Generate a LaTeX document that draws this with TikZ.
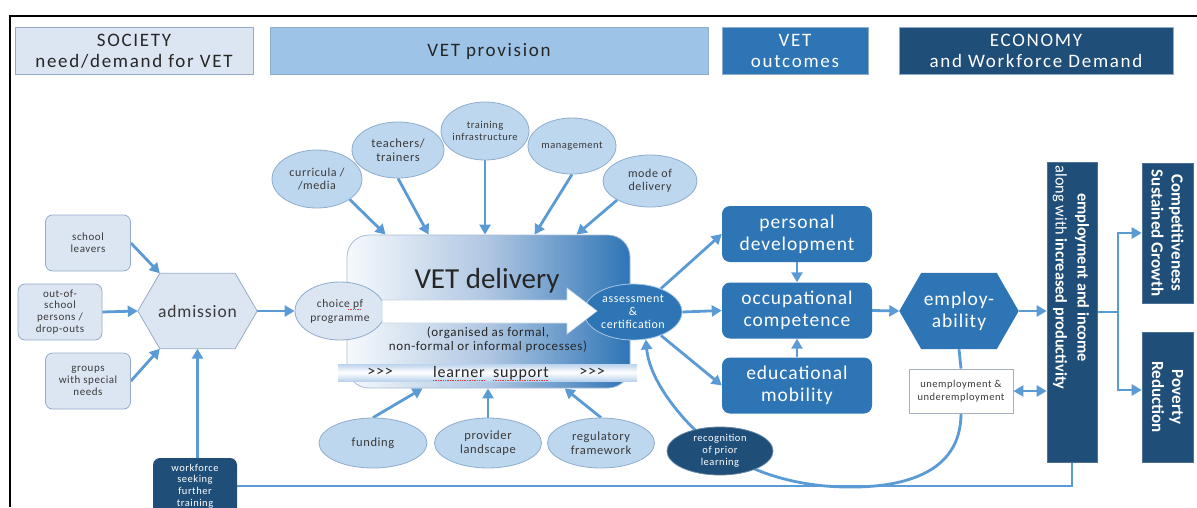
\documentclass[tikz,border=0pt]{standalone}
\usepackage{fontspec}
\setmainfont{Carlito}
\newfontfamily\spc{Carlito}[LetterSpace=5]
\newfontfamily\hspc{Carlito}[LetterSpace=9]
\usetikzlibrary{shapes.geometric,arrows.meta,calc}
\pgfdeclarelayer{bg}
\pgfdeclarelayer{mid}
\pgfsetlayers{bg,mid,main}
\definecolor{lightbg}{HTML}{DCE6F2}
\definecolor{lightborder}{HTML}{95ABC8}
\definecolor{provblue}{HTML}{9DC3E6}
\definecolor{ellblue}{HTML}{BDD7EE}
\definecolor{ellborder}{HTML}{8EACCD}
\definecolor{midblue}{HTML}{2E75B6}
\definecolor{navy}{HTML}{1F4E79}
\definecolor{arrowblue}{HTML}{5B9BD5}
\definecolor{txt}{HTML}{3A3A3A}
\definecolor{dark}{HTML}{262626}
\definecolor{delleft}{HTML}{F6F9FC}
\definecolor{delmid}{HTML}{AFC6E2}
\definecolor{delborder}{HTML}{A9BCD6}
\definecolor{bandblue}{HTML}{BBD3EC}
\definecolor{assborder}{HTML}{A7C6E6}
\definecolor{unborder}{HTML}{A5B0BE}
\definecolor{arrowborder}{HTML}{C9D5E5}
\definecolor{spell}{HTML}{E04040}
\newcommand\fz[2]{\fontsize{#1}{#2}\selectfont}
\begin{document}
\begin{tikzpicture}[x=1pt,y=-1pt,
  font=\spc,
  hdr/.style={minimum height=47pt, inner sep=0pt, align=center, line width=0.8pt, font=\hspc\fz{19}{21.5}},
  lightbox/.style={draw=lightborder, fill=lightbg, rounded corners=7pt, text=txt, align=center, line width=0.8pt, inner sep=0pt, minimum width=85pt, minimum height=56pt, font=\spc\fz{11}{11.8}},
  ell/.style={ellipse, draw=ellborder, fill=ellblue, inner sep=0pt, line width=0.8pt},
  etxt/.style={align=center, text=txt, inner sep=0pt},
  outbox/.style={fill=midblue, rounded corners=8pt, text=white, align=center, minimum width=150pt, minimum height=56pt, inner sep=0pt, font=\spc\fz{19.5}{22}},
  navybox/.style={fill=navy, draw=navy!80!white, line width=0.6pt, inner sep=0pt},
  rottxt/.style={rotate=-90, text=white, align=center, inner sep=0pt},
  arr/.style={draw=arrowblue, line width=2.8pt, -{Triangle[length=10pt,width=11pt]}},
  darr/.style={draw=arrowblue, line width=2.8pt, {Triangle[length=10pt,width=11pt]}-{Triangle[length=10pt,width=11pt]}},
  conn/.style={draw=arrowblue, line width=2.8pt},
  spellline/.style={draw=spell, densely dotted, line width=0.7pt}
]
\useasboundingbox (0,0) rectangle (1197,507);
\clip (0,0) rectangle (1197,507);

% frame
\draw[black, line width=1.5pt] (10,507) -- (10,16) -- (1197,16);

% headers
\node[hdr, draw=lightborder, fill=lightbg, text=dark, minimum width=238pt] (soc) at (134,51) {SOCIETY\\need/demand  for VET};
\node[hdr, draw=ellborder, fill=provblue, text=dark, minimum width=438pt] (prov) at (489,51) {VET provision};
\node[hdr, draw=ellborder, fill=midblue, text=white, minimum width=146pt] (outc) at (795,51) {VET\\outcomes};
\node[hdr, draw=ellborder, fill=navy, text=white, minimum width=274pt] (econ) at (1036,51) {ECONOMY\\and Workforce  Demand};

% left sources
\node[lightbox] (sl) at (88,243) {school\\leavers};
\node[lightbox, minimum width=84pt] (oos) at (60,312) {out-of-\\school\\persons /\\drop-outs};
\node[lightbox] (grp) at (88,381) {groups\\with special\\needs};

% admission hexagon
\node[minimum width=119pt, minimum height=75pt, inner sep=0pt, text=txt, font=\spc\fz{17.5}{20}] (adm) at (197.5,311) {admission};
\begin{pgfonlayer}{mid}
\draw[fill=lightbg, draw=lightborder, line width=0.8pt]
  (adm.west) -- ($(adm.north west)+(22,0)$) -- ($(adm.north east)+(-22,0)$) -- (adm.east)
  -- ($(adm.south east)+(-22,0)$) -- ($(adm.south west)+(22,0)$) -- cycle;
\end{pgfonlayer}

% top ellipses
\node[ell, minimum width=90pt, minimum height=58pt, label={[etxt, font=\spc\fz{12}{12.5}]center:curricula /\\/media}] (cur) at (317,179) {};
\node[ell, minimum width=92pt, minimum height=56pt, label={[etxt, font=\spc\fz{12.5}{13.5}]center:teachers/\\trainers}] (tea) at (398,150) {};
\node[ell, minimum width=88pt, minimum height=58pt, label={[etxt, font=\spc\fz{10.5}{12}]center:training\\infrastructure}] (tra) at (485,131) {};
\node[ell, minimum width=88pt, minimum height=56pt, label={[etxt, font=\spc\fz{10.5}{12}]center:management}] (mgt) at (572,146) {};
\node[ell, minimum width=94pt, minimum height=52pt, label={[etxt, font=\spc\fz{12}{13.5}]center:mode of\\delivery}] (mod) at (650,181) {};

% VET delivery box
\node[draw=delborder, line width=0.8pt, rounded corners=22pt, left color=delleft, right color=midblue, middle color=delmid, minimum width=283pt, minimum height=153pt, inner sep=0pt] (del) at (488.5,311.5) {};
\node[font=\fz{29}{32}, text=dark, inner sep=0pt] (deltitle) at (487,281) {VET delivery};
\node[font=\spc\fz{13}{14}, text=dark, align=center, inner sep=0pt] (delnote) at (488,340) {(organised as formal,\\non-formal or informal processes)};
\node[minimum width=299pt, minimum height=17pt, inner sep=0pt, top color=bandblue, bottom color=bandblue, middle color=white] (band) at (487.5,372.5) {};
\node[font=\spc\fz{16}{18}, text=dark, inner sep=0pt] (bl) at (380,372) {>{}>{}>};
\node[font=\spc\fz{16}{18}, text=dark, inner sep=0pt, anchor=base east] (bt1) at (485,377) {learner};
\node[font=\spc\fz{16}{18}, text=dark, inner sep=0pt, anchor=base west] (bt2) at (493,377) {support};
\node[font=\spc\fz{16}{18}, text=dark, inner sep=0pt] (br) at (592,372) {>{}>{}>};
\draw[spellline] ($(bt1.base west)+(0,3)$) -- ($(bt1.base east)+(0,3)$);
\draw[spellline] ($(bt2.base west)+(0,3)$) -- ($(bt2.base east)+(0,3)$);

% choice and assessment
\node[ell, fill=lightbg, minimum width=90pt, minimum height=58pt, label={[etxt, font=\spc\fz{11.5}{14}]center:choice pf\\programme}] (cho) at (340,311) {};
\draw[spellline] ($(cho.center)+(8,-2)$) -- ($(cho.center)+(20,-2)$);
\node[ell, fill=midblue, draw=assborder, minimum width=98pt, minimum height=56pt, label={[etxt, text=white, font=\spc\fz{12}{13}]center:assessment\\\&\\certification}] (ass) at (633,312) {};

% big white arrow
\draw[draw=arrowborder, line width=0.6pt, fill=white]
  (382,300) -- (567,300) -- (567,288) -- (597,311) -- (567,334) -- (567,323) -- (382,323) -- cycle;

% bottom ellipses
\node[ell, minimum width=108pt, minimum height=50pt, label={[etxt, font=\spc\fz{12.5}{13.5}]center:funding}] (fund) at (373,443) {};
\node[ell, minimum width=107pt, minimum height=50pt, label={[etxt, font=\spc\fz{12.5}{13.5}]center:provider\\landscape}] (provl) at (488,443) {};
\node[ell, minimum width=107pt, minimum height=50pt, label={[etxt, font=\spc\fz{12.5}{13.5}]center:regulatory\\framework}] (reg) at (601,443) {};
\node[ell, fill=navy, draw=navy!70!white, minimum width=106pt, minimum height=48pt, label={[etxt, text=white, font=\spc\fz{10.5}{12}]center:recognition\\of prior\\learning}] (rec) at (720,451) {};

% outcomes
\node[outbox] (pd) at (797,234) {personal\\development};
\node[outbox] (occ) at (797,310.5) {occupational\\competence};
\node[outbox] (edu) at (797,385.5) {educational\\mobility};

% employability hexagon
\node[minimum width=119pt, minimum height=76pt, inner sep=0pt, text=white, align=center, font=\spc\fz{19.5}{22}] (emph) at (959,311) {employ-\\ability};
\begin{pgfonlayer}{mid}
\fill[midblue]
  (emph.west) -- ($(emph.north west)+(22,0)$) -- ($(emph.north east)+(-22,0)$) -- (emph.east)
  -- ($(emph.south east)+(-22,0)$) -- ($(emph.south west)+(22,0)$) -- cycle;
\end{pgfonlayer}

\node[draw=unborder, fill=white, line width=0.8pt, minimum width=104pt, minimum height=44pt, inner sep=0pt, align=center, font=\spc\fz{10.5}{12.5}, text=txt] (unemp) at (961,391) {unemployment \&\\underemployment};

% economy boxes
\node[navybox, minimum width=50pt, minimum height=300pt] (empl) at (1072,312) {};
\node[rottxt, font=\fz{16.3}{22}] (empltext) at (1071,277.5) {\textbf{employment and income}\\along with \textbf{increased productivity}};
\node[navybox, minimum width=51pt, minimum height=140pt] (comp) at (1167.5,233) {};
\node[rottxt, font=\bfseries\fz{17}{20}] (comptext) at (comp) {Competitiveness\\Sustained Growth};
\node[navybox, minimum width=51pt, minimum height=130pt] (pov) at (1167.5,397) {};
\node[rottxt, font=\bfseries\fz{17}{20}] (povtext) at (pov) {Poverty\\Reduction};

% workforce
\node[fill=navy, rounded corners=7pt, minimum width=84pt, minimum height=56pt, inner sep=0pt, text=white, align=center, font=\spc\fz{10.5}{11.8}] (wf) at (195,486) {workforce\\seeking\\further\\training};

\coordinate (brn) at (1118,312);

% connectors
\begin{pgfonlayer}{bg}
\draw[arr] (sl.east) -- ($(adm.north west)+(22,0)$);
\draw[arr] (oos.east) -- (adm.west);
\draw[arr] (grp.east) -- ($(adm.south west)+(22,0)$);
\draw[arr] (adm.east) -- (cho.west);
\draw[arr] (wf.north -| adm.south) -- (adm.south);

\draw[arr] (cur.-32) -- ($(del.north west)+(39,0)$);
\draw[arr] (tea.south) -- ($(del.north west)+(82,0)$);
\draw[arr] (tra.south) -- (tra.south |- del.north);
\draw[arr] (mgt.south) -- ($(del.north west)+(188,0)$);
\draw[arr] (mod.-150) -- ($(del.north west)+(230,0)$);

\draw[arr] (fund.north) -- ($(del.south west)+(76,0)$);
\draw[arr] (provl.north) -- (provl.north |- del.south);
\draw[arr] (reg.north) -- ($(del.south west)+(218,0)$);

\draw[arr] (ass.40) -- (pd.west);
\draw[arr] (ass.east) -- (occ.west);
\draw[arr] (ass.-40) -- (edu.west);
\draw[arr] (pd.south) -- (occ.north);
\draw[arr] (edu.north) -- (occ.south);
\draw[arr] (occ.east) -- (emph.west);
\draw[arr] (emph.east) -- (emph.east -| empl.west);
\draw[conn] (emph.south) -- (unemp.north);
\draw[darr] (unemp.east) -- (unemp.east -| empl.west);

\draw[arr] (unemp.south) .. controls (961,475) and (900,488) .. (845,487)
  .. controls (790,486) and (750,470) .. (rec.center)
  .. controls (690,430) and (650,385) .. (ass.-65);

\draw[conn] (empl.east) -- (brn);
\draw[arr] (brn) |- (comp.west);
\draw[arr] (brn) |- ($(pov.west)+(0,-7)$);
\draw[conn] (empl.south) |- (wf.east);
\end{pgfonlayer}
\end{tikzpicture}
\end{document}
